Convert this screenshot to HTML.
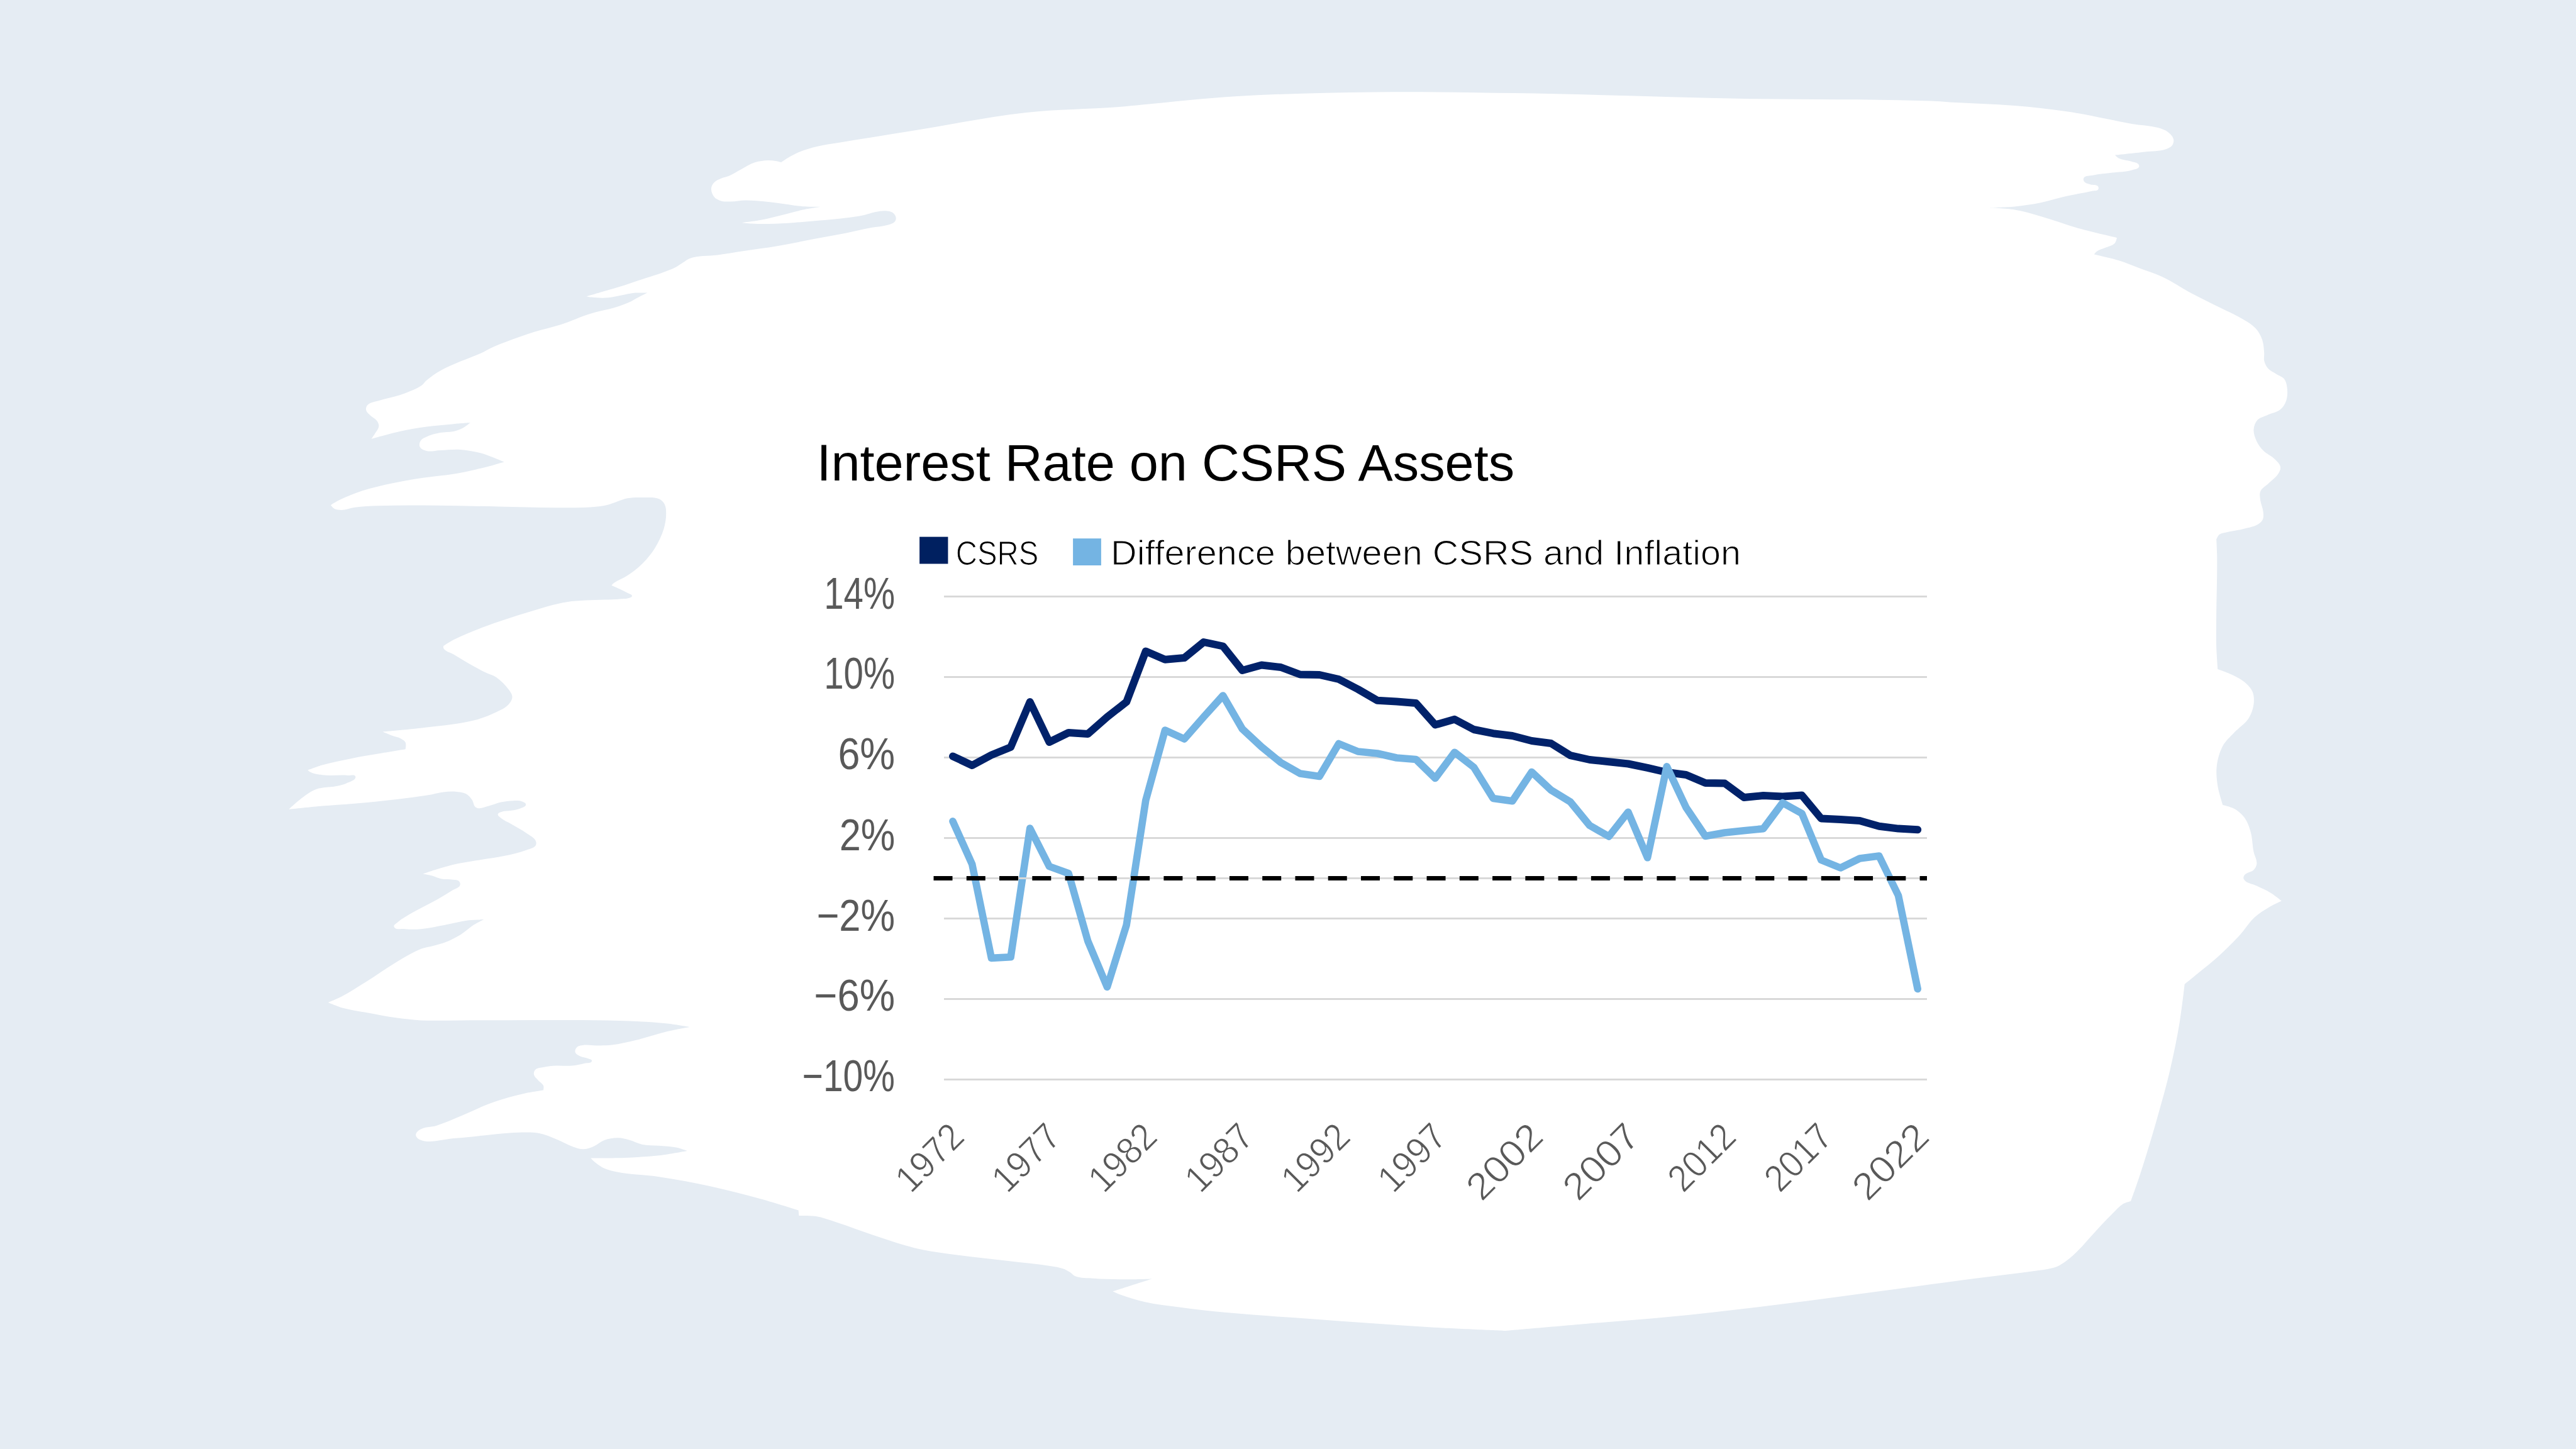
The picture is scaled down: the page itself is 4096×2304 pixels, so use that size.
<!DOCTYPE html>
<html><head><meta charset="utf-8"><title>Interest Rate on CSRS Assets</title>
<style>
html,body{margin:0;padding:0;background:#E5ECF3;}
body{width:4096px;height:2304px;overflow:hidden;}
svg{display:block;}
text{font-family:"Liberation Sans",Arial,sans-serif;}
</style></head>
<body>
<svg width="4096" height="2304" viewBox="0 0 4096 2304">
<path d="M1242.1,258.0 C1242.1,258.0 1250.8,252.1 1255.3,249.5 C1260.3,246.7 1265.5,243.8 1270.8,241.7 C1280.2,238.0 1290.2,235.1 1300.0,232.8 C1310.7,230.2 1322.0,228.8 1332.9,227.0 C1370.7,220.6 1409.7,214.6 1447.5,208.5 C1508.3,198.7 1570.6,185.7 1631.9,179.0 C1680.4,173.7 1730.8,173.9 1779.4,170.1 C1791.6,169.1 1804.1,167.6 1816.2,166.5 C1864.9,161.9 1914.9,156.1 1963.7,153.2 C2036.6,148.8 2111.9,147.4 2185.0,146.5 C2258.0,145.6 2333.2,146.9 2406.2,148.0 C2527.9,149.9 2653.2,154.7 2774.9,156.9 C2872.2,158.7 2972.6,157.1 3069.9,160.6 C3079.8,161.0 3090.1,161.8 3100.0,162.4 C3134.1,164.3 3169.4,165.2 3203.5,168.0 C3230.9,170.3 3259.1,173.3 3286.3,177.3 C3306.9,180.3 3327.9,184.8 3348.4,188.7 C3362.1,191.3 3376.1,194.5 3389.9,196.9 C3403.5,199.3 3418.0,199.2 3431.3,203.1 C3437.0,204.8 3443.2,206.7 3447.8,210.4 C3451.4,213.3 3455.2,217.2 3456.1,221.8 C3456.7,224.9 3455.8,228.5 3454.0,231.1 C3451.7,234.3 3447.4,236.0 3443.7,237.3 C3433.3,240.9 3421.5,240.1 3410.6,241.4 C3394.9,243.2 3362.9,246.6 3362.9,246.6 C3362.9,246.6 3366.8,250.6 3369.2,251.8 C3375.5,255.0 3383.2,254.8 3389.9,257.0 C3393.4,258.1 3397.8,258.3 3400.2,261.1 C3401.1,262.2 3401.8,264.0 3401.2,265.3 C3399.4,269.0 3393.8,269.3 3389.9,270.4 C3379.9,273.3 3369.1,273.2 3358.8,274.6 C3348.5,276.0 3337.8,276.6 3327.7,278.7 C3322.9,279.7 3315.9,278.7 3313.3,282.9 C3312.2,284.7 3313.0,287.5 3314.3,289.1 C3316.4,291.8 3320.4,292.1 3323.6,293.2 C3327.6,294.6 3333.4,293.0 3336.0,296.3 C3337.1,297.7 3337.1,300.1 3336.0,301.5 C3334.3,303.7 3330.5,303.0 3327.7,303.6 C3314.1,306.7 3299.9,308.7 3286.3,311.8 C3272.6,314.9 3258.7,319.4 3244.9,322.2 C3231.4,324.9 3217.3,327.1 3203.5,328.4 C3189.9,329.7 3162.1,330.1 3162.1,330.1 C3162.1,330.1 3190.0,331.4 3203.5,333.6 C3217.4,335.9 3231.4,340.1 3244.9,343.9 C3265.6,349.7 3286.3,357.8 3307.0,363.6 C3326.3,369.0 3366.0,378.1 3366.0,378.1 C3366.0,378.1 3364.9,384.2 3362.9,386.4 C3359.3,390.4 3353.2,391.4 3348.4,393.6 C3343.7,395.8 3338.2,396.8 3334.0,399.8 C3332.3,401.0 3329.8,404.6 3329.8,404.6 C3329.8,404.6 3356.4,410.4 3369.2,414.3 C3379.6,417.5 3390.0,421.9 3400.2,425.7 C3412.6,430.3 3425.7,434.4 3437.7,440.0 C3454.4,447.8 3470.1,458.7 3486.3,467.3 C3501.1,475.2 3516.8,482.6 3531.8,490.1 C3541.8,495.1 3552.5,499.6 3562.2,505.3 C3570.6,510.2 3579.9,514.9 3586.5,522.0 C3591.2,527.1 3594.8,533.6 3597.1,540.2 C3599.4,546.9 3599.7,554.4 3600.2,561.5 C3600.5,565.5 3599.3,569.7 3600.2,573.6 C3601.2,578.0 3603.2,582.4 3606.2,585.8 C3609.8,589.9 3615.3,592.0 3619.9,594.9 C3623.9,597.5 3629.1,598.8 3632.0,602.5 C3634.9,606.2 3636.0,611.4 3636.6,616.1 C3637.5,623.1 3637.4,630.7 3635.1,637.4 C3633.3,642.5 3630.2,647.6 3626.0,651.1 C3620.1,656.0 3611.6,657.0 3604.7,660.2 C3599.6,662.6 3593.3,663.7 3589.5,667.8 C3585.9,671.7 3583.9,677.6 3583.5,682.9 C3583.1,689.1 3585.4,695.5 3588.0,701.2 C3590.5,706.7 3594.4,711.9 3598.6,716.3 C3603.9,721.7 3611.6,724.7 3616.9,730.0 C3620.4,733.6 3625.1,737.3 3626.0,742.2 C3626.6,745.8 3624.8,749.7 3622.9,752.8 C3619.3,758.9 3612.8,763.0 3607.8,768.0 C3603.3,772.5 3596.5,775.7 3594.1,781.6 C3592.4,785.8 3593.6,790.8 3594.1,795.3 C3594.8,801.4 3598.0,807.3 3598.6,813.5 C3599.0,817.5 3599.6,822.0 3598.0,825.7 C3596.7,828.8 3593.9,831.5 3591.0,833.3 C3584.4,837.6 3575.9,838.8 3568.3,840.8 C3559.4,843.2 3549.8,844.0 3540.9,846.3 C3536.9,847.3 3532.1,847.4 3528.8,850.0 C3526.5,851.8 3524.2,857.6 3524.2,857.6 C3524.2,857.6 3525.1,872.6 3525.2,880.0 C3525.8,913.0 3524.3,947.0 3524.1,980.0 C3524.0,995.7 3523.6,1011.9 3524.1,1027.6 C3524.5,1039.7 3526.3,1064.1 3526.3,1064.1 C3526.3,1064.1 3540.4,1069.0 3547.0,1072.1 C3554.6,1075.7 3562.8,1079.3 3569.2,1084.8 C3574.3,1089.1 3579.4,1094.4 3581.9,1100.6 C3584.2,1106.5 3584.3,1113.4 3583.5,1119.7 C3582.5,1127.4 3579.8,1135.3 3575.6,1141.9 C3570.0,1150.7 3560.4,1156.5 3553.3,1164.1 C3546.7,1171.2 3538.9,1177.8 3534.3,1186.3 C3529.1,1195.9 3526.1,1207.2 3524.8,1218.1 C3523.5,1228.5 3524.7,1239.4 3526.3,1249.8 C3527.9,1260.0 3534.3,1280.0 3534.3,1280.0 C3534.3,1280.0 3547.6,1283.0 3553.3,1286.3 C3559.4,1289.8 3565.1,1294.9 3569.2,1300.6 C3573.9,1307.1 3576.5,1315.2 3578.7,1322.9 C3581.6,1333.1 3581.4,1344.2 3583.5,1354.6 C3584.8,1361.0 3589.0,1367.2 3588.3,1373.7 C3587.9,1377.2 3585.9,1380.7 3583.5,1383.2 C3579.8,1387.1 3572.5,1386.8 3569.2,1391.1 C3567.9,1392.8 3566.7,1395.5 3567.6,1397.5 C3570.7,1404.6 3581.4,1405.0 3588.3,1408.6 C3595.6,1412.4 3603.5,1415.4 3610.5,1419.7 C3616.6,1423.4 3628.0,1432.6 3628.0,1432.6 C3628.0,1432.6 3614.7,1438.6 3608.5,1442.2 C3600.4,1447.0 3592.0,1452.2 3585.0,1458.6 C3576.1,1466.8 3569.7,1477.9 3561.5,1486.8 C3551.2,1498.1 3539.9,1509.3 3528.6,1519.6 C3519.7,1527.8 3509.8,1535.4 3500.5,1543.1 C3491.7,1550.4 3473.7,1565.1 3473.7,1565.1 C3473.7,1565.1 3469.2,1604.6 3466.0,1623.9 C3461.8,1649.3 3456.5,1675.4 3450.7,1700.5 C3444.8,1726.0 3437.4,1751.9 3430.3,1777.1 C3423.1,1802.5 3415.3,1828.5 3407.3,1853.7 C3404.1,1863.9 3400.6,1874.3 3397.1,1884.4 C3394.2,1892.8 3388.1,1909.9 3388.1,1909.9 C3388.1,1909.9 3380.1,1911.8 3376.6,1913.8 C3369.7,1917.9 3364.4,1924.5 3358.7,1930.1 C3347.3,1941.3 3336.3,1953.5 3325.5,1965.2 C3319.0,1972.2 3312.8,1979.9 3306.1,1986.6 C3300.0,1992.7 3293.6,1998.9 3286.7,2004.1 C3281.9,2007.7 3276.7,2011.4 3271.2,2013.8 C3266.9,2015.7 3262.2,2016.6 3257.6,2017.6 C3251.3,2019.0 3244.6,2019.7 3238.2,2020.6 C3206.2,2025.1 3173.1,2028.6 3141.1,2032.8 C3109.1,2037.0 3076.1,2041.5 3044.1,2045.8 C3012.1,2050.1 2979.0,2054.5 2947.0,2058.8 C2915.0,2063.1 2882.0,2067.7 2850.0,2071.6 C2784.1,2079.7 2716.1,2087.8 2650.0,2094.3 C2607.5,2098.5 2563.6,2101.4 2521.1,2105.0 C2479.2,2108.6 2394.0,2116.0 2394.0,2116.0 C2394.0,2116.0 2312.7,2112.6 2272.7,2110.2 C2211.1,2106.6 2147.8,2101.6 2086.3,2097.2 C2041.3,2094.0 1994.9,2091.4 1950.0,2087.1 C1925.2,2084.7 1899.7,2081.7 1875.0,2078.4 C1857.0,2076.0 1838.4,2074.2 1820.7,2070.2 C1807.0,2067.1 1793.1,2062.9 1779.9,2058.0 C1776.4,2056.7 1769.6,2053.4 1769.6,2053.4 C1769.6,2053.4 1831.5,2033.5 1831.5,2033.5 C1831.5,2033.5 1806.0,2034.4 1793.5,2034.3 C1775.5,2034.2 1757.0,2034.1 1739.1,2032.7 C1729.2,2031.9 1718.4,2032.7 1709.2,2028.9 C1706.1,2027.6 1704.0,2024.5 1701.1,2022.7 C1697.7,2020.6 1694.0,2018.5 1690.2,2017.2 C1684.2,2015.1 1677.5,2014.2 1671.2,2013.2 C1648.9,2009.5 1625.7,2007.7 1603.3,2005.0 C1576.4,2001.8 1548.6,1999.1 1521.7,1995.5 C1503.7,1993.1 1485.2,1990.9 1467.4,1987.3 C1458.3,1985.5 1449.1,1983.0 1440.2,1980.5 C1422.1,1975.3 1403.8,1968.9 1385.9,1962.9 C1367.9,1956.8 1349.6,1949.7 1331.5,1943.9 C1320.0,1940.2 1308.2,1935.7 1296.2,1933.8 C1287.8,1932.5 1270.4,1933.0 1270.4,1933.0 C1270.4,1933.0 1269.6,1924.4 1269.6,1924.4 C1269.6,1924.4 1230.5,1912.1 1211.1,1906.7 C1184.3,1899.3 1156.6,1892.2 1129.5,1886.3 C1102.7,1880.5 1075.0,1875.4 1047.9,1871.3 C1025.6,1867.9 1002.1,1867.7 980.0,1863.2 C973.6,1861.9 966.9,1860.4 960.9,1857.7 C956.0,1855.5 951.5,1852.3 947.3,1849.0 C944.4,1846.7 939.2,1841.4 939.2,1841.4 C939.2,1841.4 975.6,1841.6 993.5,1840.9 C1011.5,1840.2 1030.0,1839.3 1047.9,1837.3 C1062.8,1835.6 1092.8,1830.0 1092.8,1830.0 C1092.8,1830.0 1081.1,1825.8 1075.1,1824.6 C1066.3,1822.8 1056.9,1822.6 1047.9,1821.8 C1039.0,1821.0 1029.6,1821.6 1020.8,1819.7 C1014.3,1818.3 1008.2,1814.6 1001.7,1812.9 C995.5,1811.2 989.1,1809.4 982.7,1809.3 C975.4,1809.2 967.8,1810.4 960.9,1812.9 C955.0,1815.0 950.3,1819.9 944.6,1822.4 C939.4,1824.6 933.9,1827.1 928.3,1827.3 C922.8,1827.5 917.2,1825.4 912.0,1823.7 C902.7,1820.6 893.9,1815.1 884.8,1811.5 C876.0,1808.0 866.9,1803.8 857.6,1802.0 C848.8,1800.3 839.4,1800.5 830.4,1800.6 C812.4,1800.8 793.9,1803.1 776.0,1804.7 C758.0,1806.3 739.6,1808.9 721.6,1810.1 C703.7,1811.3 683.6,1819.4 667.2,1812.0 C664.4,1810.7 661.3,1807.8 661.2,1804.7 C661.1,1801.3 664.4,1798.4 667.2,1796.5 C674.9,1791.3 685.6,1792.5 694.4,1789.7 C708.2,1785.2 721.8,1779.0 735.2,1773.4 C748.7,1767.8 762.3,1761.0 776.0,1755.8 C786.6,1751.8 797.6,1748.2 808.5,1745.0 C816.7,1742.6 825.3,1740.5 833.7,1738.7 C843.6,1736.6 864.0,1733.6 864.0,1733.6 C864.0,1733.6 865.0,1728.3 864.0,1726.0 C862.6,1722.7 858.7,1721.1 856.4,1718.4 C853.7,1715.3 849.6,1712.4 848.9,1708.3 C848.5,1705.7 849.5,1702.6 851.4,1700.8 C854.5,1697.8 859.8,1697.9 864.0,1697.0 C870.6,1695.6 877.5,1694.9 884.2,1694.5 C892.5,1694.0 901.2,1695.3 909.5,1694.5 C916.3,1693.9 923.1,1692.4 929.7,1690.7 C933.5,1689.7 940.7,1690.8 941.1,1686.9 C941.4,1684.5 937.0,1684.1 934.8,1683.1 C930.8,1681.3 926.0,1681.4 922.1,1679.3 C919.3,1677.8 915.5,1676.1 914.6,1673.0 C913.9,1670.5 915.2,1667.2 917.1,1665.4 C920.2,1662.4 925.4,1662.1 929.7,1661.6 C935.5,1660.9 941.6,1662.4 947.4,1662.4 C955.8,1662.5 964.4,1662.6 972.7,1661.6 C985.4,1660.1 998.2,1656.9 1010.6,1654.0 C1027.4,1650.0 1044.3,1644.1 1061.1,1640.1 C1072.7,1637.3 1096.5,1633.0 1096.5,1633.0 C1096.5,1633.0 1072.9,1628.8 1061.1,1627.5 C1036.2,1624.8 1010.3,1623.8 985.3,1622.9 C943.6,1621.5 900.7,1622.0 859.0,1621.9 C817.3,1621.8 774.4,1622.3 732.7,1622.4 C711.8,1622.4 690.3,1623.4 669.5,1622.4 C656.9,1621.8 644.1,1620.3 631.6,1618.6 C614.8,1616.3 597.7,1612.9 581.1,1609.8 C568.6,1607.5 555.5,1605.7 543.2,1602.2 C535.9,1600.1 521.7,1594.1 521.7,1594.1 C521.7,1594.1 536.3,1588.1 543.2,1584.5 C556.1,1577.8 568.7,1569.5 581.1,1561.8 C598.0,1551.3 614.5,1539.1 631.6,1529.0 C643.8,1521.8 656.3,1513.8 669.5,1508.7 C675.9,1506.2 683.1,1505.5 689.7,1503.7 C695.6,1502.1 701.7,1500.8 707.4,1498.6 C716.1,1495.2 724.8,1490.9 732.7,1486.0 C739.8,1481.6 745.9,1475.3 752.9,1470.8 C758.1,1467.5 769.3,1462.0 769.3,1462.0 C769.3,1462.0 753.2,1462.3 745.3,1463.3 C732.6,1464.9 719.9,1468.5 707.4,1470.8 C694.9,1473.1 682.1,1476.1 669.5,1477.2 C661.2,1477.9 652.5,1478.1 644.2,1477.2 C638.3,1476.6 628.5,1479.0 626.5,1473.4 C625.6,1470.9 629.6,1468.9 631.6,1467.1 C639.0,1460.4 648.3,1455.7 656.9,1450.6 C669.1,1443.4 682.5,1437.4 694.8,1430.4 C703.2,1425.6 711.8,1420.5 720.0,1415.3 C723.8,1412.9 729.7,1411.9 731.4,1407.7 C732.2,1405.7 731.6,1402.9 730.1,1401.4 C727.7,1398.9 723.4,1399.3 720.0,1398.8 C714.2,1397.9 708.0,1398.7 702.3,1397.6 C697.1,1396.6 692.3,1393.9 687.2,1392.5 C682.4,1391.2 672.4,1389.5 672.4,1389.5 C672.4,1389.5 686.1,1384.7 692.9,1382.7 C704.7,1379.2 716.9,1375.7 729.0,1373.1 C740.8,1370.6 753.2,1369.1 765.1,1367.1 C777.0,1365.1 789.5,1363.7 801.3,1361.1 C813.4,1358.5 825.9,1355.8 837.4,1351.4 C842.4,1349.5 849.0,1348.7 851.8,1344.2 C853.0,1342.2 852.8,1339.2 851.8,1337.0 C849.2,1331.4 842.4,1328.6 837.4,1325.0 C829.8,1319.6 821.3,1315.2 813.3,1310.5 C807.8,1307.2 801.4,1304.9 796.5,1300.8 C794.6,1299.1 791.3,1297.3 791.6,1294.8 C791.9,1292.8 794.6,1292.0 796.5,1291.2 C801.7,1289.1 807.8,1289.9 813.3,1288.8 C818.1,1287.9 823.3,1287.3 827.8,1285.2 C830.9,1283.8 836.1,1282.6 836.2,1279.2 C836.3,1276.7 832.6,1275.3 830.2,1274.4 C825.7,1272.6 820.5,1273.1 815.7,1273.2 C809.3,1273.3 802.7,1274.3 796.5,1275.6 C790.0,1277.0 783.7,1279.9 777.2,1281.6 C771.7,1283.0 766.0,1285.9 760.3,1285.2 C758.5,1285.0 756.7,1284.1 755.5,1282.8 C752.8,1280.0 752.9,1275.2 750.7,1272.0 C748.2,1268.3 745.1,1264.5 741.1,1262.3 C736.1,1259.6 729.9,1259.2 724.2,1258.7 C717.9,1258.2 711.3,1258.7 705.0,1259.4 C696.9,1260.3 688.8,1262.9 680.8,1264.2 C665.0,1266.8 648.6,1268.8 632.7,1270.7 C608.9,1273.5 584.3,1275.9 560.4,1278.0 C544.5,1279.4 528.2,1280.2 512.3,1281.6 C494.8,1283.1 459.3,1286.9 459.3,1286.9 C459.3,1286.9 470.2,1276.5 476.1,1272.0 C484.4,1265.8 492.9,1258.8 502.6,1255.1 C513.1,1251.1 525.3,1252.3 536.3,1249.8 C541.2,1248.7 546.3,1247.8 550.8,1245.5 C556.1,1242.8 566.7,1240.4 565.2,1234.6 C564.2,1230.7 557.2,1233.2 553.2,1232.9 C539.7,1231.8 525.7,1234.0 512.3,1232.2 C505.8,1231.3 498.9,1230.3 493.0,1227.4 C491.6,1226.7 489.4,1224.5 489.4,1224.5 C489.4,1224.5 504.6,1218.7 512.3,1216.5 C527.9,1212.0 544.4,1208.9 560.4,1205.7 C576.2,1202.5 592.7,1200.0 608.6,1197.3 C620.5,1195.3 644.7,1191.3 644.7,1191.3 C644.7,1191.3 646.2,1183.7 644.7,1180.4 C643.4,1177.6 640.2,1175.9 637.5,1174.4 C633.1,1172.0 627.7,1171.4 623.0,1169.6 C618.2,1167.8 608.6,1163.6 608.6,1163.6 C608.6,1163.6 657.0,1159.3 680.8,1156.3 C704.7,1153.3 729.7,1151.5 753.1,1145.5 C765.4,1142.4 777.8,1137.9 789.2,1132.3 C796.0,1129.0 803.4,1125.8 808.5,1120.2 C811.5,1116.9 814.5,1112.6 814.5,1108.2 C814.5,1103.7 811.1,1099.7 808.5,1096.1 C803.2,1088.8 796.6,1082.0 789.2,1076.9 C783.9,1073.3 777.2,1071.8 771.4,1069.0 C762.5,1064.6 753.5,1059.7 744.9,1054.8 C736.8,1050.2 728.7,1045.1 720.8,1040.3 C715.6,1037.2 708.1,1036.0 705.2,1030.7 C704.6,1029.7 705.2,1027.1 705.2,1027.1 C705.2,1027.1 715.4,1020.3 720.8,1017.5 C736.2,1009.6 752.8,1003.1 769.0,997.0 C792.5,988.1 817.2,980.1 841.3,972.9 C861.0,967.1 881.2,960.4 901.5,957.2 C921.2,954.1 941.8,954.7 961.7,953.6 C969.7,953.2 977.9,953.2 985.8,952.4 C991.4,951.9 997.6,952.5 1002.6,950.0 C1003.6,949.5 1005.1,948.7 1005.0,947.6 C1004.7,944.8 1000.3,944.2 997.8,942.8 C994.0,940.6 989.8,938.7 985.8,936.8 C981.4,934.7 972.5,930.7 972.5,930.7 C972.5,930.7 974.8,928.1 976.1,927.1 C982.6,922.2 991.0,919.7 997.8,915.1 C1006.3,909.4 1014.7,903.0 1021.9,895.8 C1029.1,888.6 1035.8,880.4 1041.2,871.7 C1047.2,862.0 1052.4,851.3 1055.6,840.4 C1057.9,832.7 1059.3,824.3 1059.2,816.3 C1059.2,811.5 1059.0,806.2 1056.8,801.9 C1055.0,798.4 1051.9,795.2 1048.4,793.5 C1040.5,789.8 1030.7,791.2 1021.9,791.0 C1013.9,790.8 1005.6,790.8 997.8,792.3 C987.9,794.2 978.6,799.4 968.9,801.9 C962.7,803.5 956.1,804.8 949.7,805.5 C929.9,807.6 909.3,807.1 889.4,807.2 C857.6,807.4 824.9,806.1 793.1,805.5 C761.3,804.9 728.6,804.0 696.8,803.8 C665.0,803.6 632.2,803.2 600.4,804.3 C588.5,804.7 576.1,805.1 564.3,806.7 C557.1,807.7 549.9,810.9 542.6,811.0 C539.0,811.0 535.0,810.8 531.8,809.1 C529.3,807.8 525.8,803.1 525.8,803.1 C525.8,803.1 535.3,797.1 540.2,794.7 C551.7,789.1 564.1,784.2 576.3,780.2 C591.9,775.2 608.5,771.6 624.5,768.2 C640.3,764.8 656.7,762.1 672.7,759.7 C688.5,757.3 705.0,756.3 720.8,753.7 C732.8,751.8 745.1,749.2 757.0,746.5 C765.0,744.7 773.2,742.6 781.1,740.5 C787.9,738.7 801.5,734.5 801.5,734.5 C801.5,734.5 790.7,729.8 785.3,727.7 C778.3,725.0 771.1,722.1 763.9,720.2 C753.5,717.5 742.5,715.6 731.8,714.9 C721.2,714.2 710.3,715.5 699.7,715.9 C692.6,716.2 685.2,718.7 678.3,717.0 C674.3,716.0 669.4,714.3 667.6,710.6 C666.2,707.7 667.0,703.7 668.7,701.0 C670.7,697.7 674.8,696.1 678.3,694.5 C685.0,691.3 692.5,689.5 699.7,688.1 C706.7,686.7 714.2,687.6 721.1,686.0 C726.2,684.8 731.4,683.1 736.1,680.6 C740.3,678.4 747.9,672.1 747.9,672.1 C747.9,672.1 729.9,673.4 721.1,674.2 C707.0,675.5 692.4,676.6 678.3,678.5 C664.1,680.5 649.6,682.9 635.6,686.0 C620.6,689.3 590.6,697.8 590.6,697.8 C590.6,697.8 595.2,691.4 597.1,688.1 C599.1,684.7 602.2,681.3 602.4,677.4 C602.5,674.4 601.0,671.3 599.2,668.9 C596.5,665.2 591.7,663.6 588.5,660.3 C586.1,657.8 582.7,655.3 582.1,651.8 C581.6,649.3 582.5,646.2 584.2,644.3 C588.8,639.2 597.0,638.9 603.5,636.8 C613.9,633.4 625.2,631.5 635.6,628.2 C641.3,626.4 647.2,624.2 652.7,621.8 C658.5,619.3 664.7,617.0 669.8,613.3 C673.0,611.0 675.3,607.3 678.3,604.7 C684.9,599.1 692.2,594.0 699.7,589.7 C709.8,583.9 721.1,579.4 731.8,574.8 C742.3,570.3 753.5,566.6 763.9,561.9 C771.1,558.7 778.1,554.4 785.3,551.2 C792.2,548.1 799.6,545.4 806.7,542.7 C820.7,537.5 835.2,532.2 849.5,527.7 C863.5,523.3 878.3,520.4 892.2,515.9 C906.5,511.3 920.6,504.8 934.9,500.0 C938.7,498.7 942.7,497.5 946.6,496.5 C956.1,493.9 966.2,492.3 975.7,489.5 C983.5,487.2 991.5,484.6 999.0,481.3 C1005.0,478.7 1010.7,475.0 1016.5,472.0 C1020.7,469.8 1029.3,465.6 1029.3,465.6 C1029.3,465.6 1016.7,465.1 1010.6,465.6 C1004.8,466.1 998.9,467.5 993.2,468.5 C987.4,469.6 981.5,471.1 975.7,472.0 C970.0,472.9 964.0,473.6 958.2,473.7 C952.4,473.8 946.5,473.2 940.8,472.6 C938.1,472.3 932.6,471.4 932.6,471.4 C932.6,471.4 949.8,466.3 958.2,463.8 C969.8,460.4 981.7,457.0 993.2,453.4 C1004.8,449.7 1016.6,445.5 1028.1,441.7 C1035.8,439.2 1043.8,437.0 1051.4,434.2 C1059.2,431.4 1067.3,428.6 1074.7,424.8 C1078.7,422.7 1082.4,419.7 1086.3,417.3 C1089.7,415.1 1093.0,412.2 1096.8,410.9 C1110.6,406.1 1126.3,407.6 1140.8,405.6 C1154.3,403.7 1168.1,401.3 1181.5,399.3 C1199.4,396.6 1218.0,394.3 1235.9,391.3 C1253.9,388.2 1272.3,384.2 1290.2,380.8 C1308.1,377.4 1326.7,374.4 1344.6,370.8 C1358.1,368.1 1371.8,364.7 1385.3,362.1 C1394.2,360.4 1403.8,360.0 1412.5,357.4 C1415.8,356.4 1419.6,355.7 1422.0,353.3 C1423.6,351.8 1424.7,349.4 1424.7,347.2 C1424.7,344.8 1423.6,342.2 1422.0,340.4 C1420.3,338.4 1417.7,337.1 1415.2,336.3 C1412.2,335.3 1408.9,335.2 1405.7,335.2 C1401.2,335.2 1396.5,336.1 1392.1,337.0 C1385.3,338.4 1378.5,341.0 1371.7,342.4 C1362.8,344.2 1353.6,345.4 1344.6,346.5 C1331.2,348.2 1317.3,349.4 1303.8,350.6 C1290.3,351.8 1276.5,353.1 1263.0,354.0 C1249.6,354.9 1235.7,355.8 1222.3,356.0 C1213.3,356.2 1204.1,356.1 1195.1,355.6 C1189.7,355.3 1178.8,354.0 1178.8,354.0 C1178.8,354.0 1198.9,351.7 1208.7,349.9 C1222.3,347.4 1236.1,343.6 1249.5,340.4 C1258.5,338.2 1267.6,335.5 1276.6,333.6 C1286.0,331.6 1305.2,328.8 1305.2,328.8 C1305.2,328.8 1286.0,328.9 1276.6,328.2 C1263.1,327.1 1249.4,324.4 1235.9,322.7 C1228.0,321.7 1219.9,320.7 1212.0,320.0 C1203.2,319.3 1194.2,318.5 1185.4,318.6 C1177.7,318.7 1169.8,320.6 1162.1,320.6 C1157.0,320.6 1151.5,320.9 1146.6,319.4 C1142.6,318.2 1138.3,316.4 1135.7,313.2 C1132.6,309.4 1130.6,304.1 1131.0,299.2 C1131.2,295.8 1133.3,292.4 1135.7,289.9 C1138.6,286.9 1142.8,285.4 1146.6,283.7 C1150.5,282.0 1155.1,281.5 1159.0,279.8 C1165.4,277.1 1171.4,272.9 1177.6,269.7 C1185.2,265.7 1192.7,260.6 1200.9,258.0 C1207.3,256.0 1214.4,255.1 1221.1,254.9 C1225.2,254.8 1229.4,255.4 1233.5,256.0 C1236.4,256.5 1242.1,258.0 1242.1,258.0Z" fill="#FFFFFF"/>
<line x1="1501" y1="948.5" x2="3064" y2="948.5" stroke="#D9D9D9" stroke-width="3"/>
<line x1="1501" y1="1076.5" x2="3064" y2="1076.5" stroke="#D9D9D9" stroke-width="3"/>
<line x1="1501" y1="1204.5" x2="3064" y2="1204.5" stroke="#D9D9D9" stroke-width="3"/>
<line x1="1501" y1="1332.5" x2="3064" y2="1332.5" stroke="#D9D9D9" stroke-width="3"/>
<line x1="1501" y1="1460.5" x2="3064" y2="1460.5" stroke="#D9D9D9" stroke-width="3"/>
<line x1="1501" y1="1588.5" x2="3064" y2="1588.5" stroke="#D9D9D9" stroke-width="3"/>
<line x1="1501" y1="1716.5" x2="3064" y2="1716.5" stroke="#D9D9D9" stroke-width="3"/>
<polyline points="1515.0,1202.5 1545.7,1217.0 1576.4,1200.5 1607.1,1188.0 1637.7,1116.0 1668.4,1180.0 1699.1,1165.0 1729.8,1167.0 1760.5,1140.0 1791.2,1116.0 1821.8,1035.5 1852.5,1048.8 1883.2,1046.0 1913.9,1021.0 1944.6,1027.5 1975.3,1066.0 2005.9,1057.5 2036.6,1061.0 2067.3,1072.5 2098.0,1073.0 2128.7,1080.0 2159.4,1096.0 2190.0,1113.8 2220.7,1115.5 2251.4,1118.0 2282.1,1152.5 2312.8,1143.8 2343.5,1160.0 2374.2,1166.2 2404.8,1170.0 2435.5,1178.0 2466.2,1182.0 2496.9,1201.2 2527.6,1208.0 2558.3,1211.2 2588.9,1214.5 2619.6,1220.8 2650.3,1228.0 2681.0,1232.0 2711.7,1245.0 2742.4,1245.5 2773.0,1268.0 2803.7,1265.0 2834.4,1266.5 2865.1,1264.5 2895.8,1301.5 2926.5,1303.0 2957.1,1305.0 2987.8,1313.8 3018.5,1317.6 3049.2,1319.2" fill="none" stroke="#01226A" stroke-width="12" stroke-linejoin="round" stroke-linecap="round"/>
<polyline points="1515.0,1305.8 1545.7,1374.2 1576.4,1523.4 1607.1,1521.8 1637.7,1317.0 1668.4,1377.6 1699.1,1388.8 1729.8,1496.5 1760.5,1569.4 1791.2,1470.7 1821.8,1272.5 1852.5,1161.0 1883.2,1175.0 1913.9,1140.0 1944.6,1106.0 1975.3,1159.0 2005.9,1187.5 2036.6,1212.5 2067.3,1230.0 2098.0,1234.5 2128.7,1182.5 2159.4,1195.0 2190.0,1198.0 2220.7,1205.0 2251.4,1207.5 2282.1,1237.5 2312.8,1196.2 2343.5,1220.0 2374.2,1269.5 2404.8,1273.8 2435.5,1227.5 2466.2,1256.2 2496.9,1275.0 2527.6,1312.5 2558.3,1330.0 2588.9,1291.2 2619.6,1363.8 2650.3,1218.8 2681.0,1284.0 2711.7,1329.5 2742.4,1324.0 2773.0,1320.8 2803.7,1317.7 2834.4,1276.5 2865.1,1293.5 2895.8,1367.5 2926.5,1380.0 2957.1,1365.0 2987.8,1361.0 3018.5,1424.0 3049.2,1572.5" fill="none" stroke="#74B4E3" stroke-width="11.6" stroke-linejoin="round" stroke-linecap="round"/>
<line x1="1501" y1="1396.5" x2="3064" y2="1396.5" stroke="#D9D9D9" stroke-width="3"/>
<line x1="1484.5" y1="1396.5" x2="3064" y2="1396.5" stroke="#000" stroke-width="7" stroke-dasharray="30 22.27"/>
<text transform="translate(1310.27,967.74) scale(0.7921,1)" font-size="71.14" fill="#595959" class="yl">14%</text>
<text transform="translate(1310.27,1095.40) scale(0.8034,1)" font-size="70.14" fill="#595959" class="yl">10%</text>
<text transform="translate(1332.46,1223.40) scale(0.8953,1)" font-size="70.14" fill="#595959" class="yl">6%</text>
<text transform="translate(1334.64,1351.75) scale(0.8671,1)" font-size="70.64" fill="#595959" class="yl">2%</text>
<text transform="translate(1298.53,1479.75) scale(0.8690,1)" font-size="70.64" fill="#595959" class="yl">−2%</text>
<text transform="translate(1294.53,1607.40) scale(0.9038,1)" font-size="70.14" fill="#595959" class="yl">−6%</text>
<text transform="translate(1275.65,1735.40) scale(0.8127,1)" font-size="70.14" fill="#595959" class="yl">−10%</text>
<text transform="translate(1448.18,1899.22) rotate(-45) scale(0.9387,1)" font-size="59.86" fill="#595959" stroke="#fff" stroke-width="1.1" class="xl">1972</text>
<text transform="translate(1601.60,1899.22) rotate(-45) scale(0.9387,1)" font-size="59.86" fill="#595959" stroke="#fff" stroke-width="1.1" class="xl">1977</text>
<text transform="translate(1755.02,1899.22) rotate(-45) scale(0.9387,1)" font-size="59.86" fill="#595959" stroke="#fff" stroke-width="1.1" class="xl">1982</text>
<text transform="translate(1908.44,1899.22) rotate(-45) scale(0.9387,1)" font-size="59.86" fill="#595959" stroke="#fff" stroke-width="1.1" class="xl">1987</text>
<text transform="translate(2061.86,1899.22) rotate(-45) scale(0.9387,1)" font-size="59.86" fill="#595959" stroke="#fff" stroke-width="1.1" class="xl">1992</text>
<text transform="translate(2215.28,1899.22) rotate(-45) scale(0.9387,1)" font-size="59.86" fill="#595959" stroke="#fff" stroke-width="1.1" class="xl">1997</text>
<text transform="translate(2355.97,1911.95) rotate(-45) scale(1.0770,1)" font-size="59.86" fill="#595959" stroke="#fff" stroke-width="1.1" class="xl">2002</text>
<text transform="translate(2509.39,1911.95) rotate(-45) scale(1.0770,1)" font-size="59.86" fill="#595959" stroke="#fff" stroke-width="1.1" class="xl">2007</text>
<text transform="translate(2676.56,1898.20) rotate(-45) scale(0.9277,1)" font-size="59.86" fill="#595959" stroke="#fff" stroke-width="1.1" class="xl">2012</text>
<text transform="translate(2829.98,1898.20) rotate(-45) scale(0.9277,1)" font-size="59.86" fill="#595959" stroke="#fff" stroke-width="1.1" class="xl">2017</text>
<text transform="translate(2969.65,1911.95) rotate(-45) scale(1.0770,1)" font-size="59.86" fill="#595959" stroke="#fff" stroke-width="1.1" class="xl">2022</text>
<text transform="translate(1298.44,764.38) scale(1.0057,1)" font-size="82.39" fill="#000" class="title">Interest Rate on CSRS Assets</text>
<rect x="1462.1" y="853.6" width="45.3" height="42.9" fill="#002060"/>
<rect x="1706.1" y="856.2" width="44.8" height="42.8" fill="#74B4E3"/>
<text transform="translate(1519.73,898.07) scale(0.8918,1)" font-size="53.10" fill="#000" class="lg" stroke="#fff" stroke-width="1.2">CSRS</text>
<text transform="translate(1766.09,898.05) scale(1.0544,1)" font-size="54.69" fill="#000" class="lg" stroke="#fff" stroke-width="1.2">Difference between CSRS and Inflation</text>
</svg>
</body></html>
